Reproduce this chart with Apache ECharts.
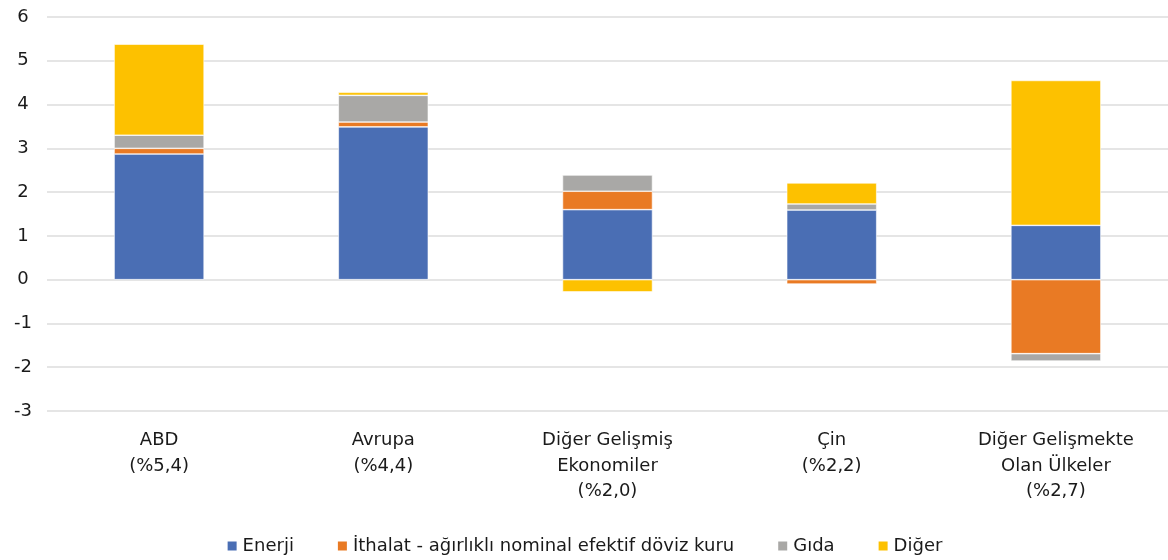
<!DOCTYPE html>
<html lang="tr">
<head>
<meta charset="UTF-8">
<script src="https://cdn.jsdelivr.net/npm/echarts@6/dist/echarts.min.js"></script>
<title>chart</title>
<style>
  html, body { margin: 0; padding: 0; background: #fff; }
</style>
</head>
<body>
<div id="main" style="width:1168px;height:560px;"></div>
<script type="text/javascript">
// kategoriler
var categories = ['ABD\n(%5,4)', 'Avrupa\n(%4,4)', 'Diğer Gelişmiş\nEkonomiler\n(%2,0)', 'Çin\n(%2,2)', 'Diğer Gelişmekte\nOlan Ülkeler\n(%2,7)'];

// seriler
var enerji = [2.87, 3.49, 1.60, 1.59, 1.24];
var ithalat = [0.13, 0.11, 0.42, -0.10, -1.69];
var gida = [0.30, 0.61, 0.37, 0.14, -0.17];
var diger = [2.08, 0.07, -0.28, 0.48, 3.31];

var names = ['Enerji', 'İthalat - ağırlıklı nominal efektif döviz kuru', 'Gıda', 'Diğer'];
var colors = ['#4a6eb4', '#e97a24', '#a9a8a6', '#fdc100'];
var values = [enerji, ithalat, gida, diger];

var font = '"DejaVu Sans", sans-serif';

var s = [];
for (var i = 0; i < names.length; i++) {
    s.push({
        name: names[i],
        type: 'bar',
        stack: 'toplam',
        barWidth: 90,
        itemStyle: { color: colors[i], borderColor: '#ffffff', borderWidth: 0.6 },
        data: values[i]
    });
}

var myChart = echarts.init(document.getElementById('main'));
myChart.setOption({
    animation: false,
    color: colors,
    grid: { left: 47, right: 0, top: 17, bottom: 149, containLabel: false },
    legend: {
        bottom: 0,
        left: 'center',
        itemWidth: 11,
        itemHeight: 11,
        itemGap: 42,
        icon: 'rect',
        textStyle: { fontSize: 18, color: '#1a1a1a', fontFamily: font }
    },
    xAxis: {
        type: 'category',
        data: categories,
        axisLine: { show: false },
        axisTick: { show: false },
        axisLabel: {
            fontSize: 18, color: '#1a1a1a', fontFamily: font,
            lineHeight: 25.5, margin: 17, interval: 0
        }
    },
    yAxis: {
        type: 'value',
        min: -3,
        max: 6,
        interval: 1,
        axisLine: { show: false },
        axisTick: { show: false },
        axisLabel: { fontSize: 18, color: '#1a1a1a', fontFamily: font, margin: 24, align: 'center' },
        splitLine: { lineStyle: { color: '#dcdcdc', width: 1.5 } }
    },
    series: s
});
</script>
</body>
</html>
